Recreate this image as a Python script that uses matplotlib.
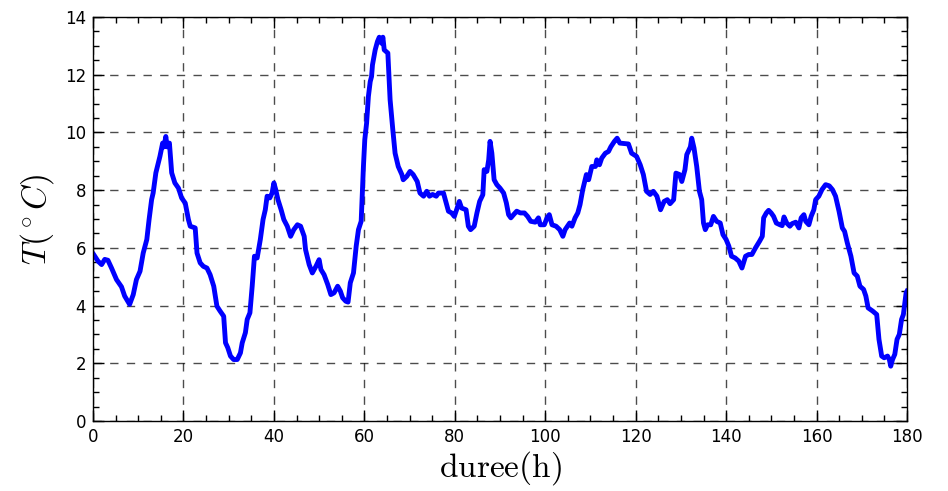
import matplotlib
matplotlib.use("Agg")
import matplotlib.pyplot as plt
from matplotlib.ticker import MultipleLocator

# duree (h) and temperature (deg C)
duree = [0.15, 1.1, 1.9, 2.6, 3.3, 4.1, 5.2, 6.3, 7.0, 8.1, 8.9, 9.6, 10.4, 11.1, 11.9,
         12.4, 12.96, 13.3, 13.9, 14.8, 15.4, 15.7, 16.1, 16.4, 16.9, 17.4, 18.1, 18.9,
         19.6, 20.4, 21.1, 21.5, 22.6, 23.0, 23.7, 24.4, 25.2, 25.9, 26.7, 27.4, 28.1,
         28.9, 29.3, 29.8, 30.4, 31.1, 31.9, 32.6, 33.0, 33.7, 34.1, 34.7, 35.2, 35.7,
         36.3, 37.0, 37.6, 38.1, 38.5, 39.1, 39.6, 40.0, 40.4, 40.9, 41.6, 42.2, 42.96,
         43.7, 44.4, 45.2, 45.9, 46.7, 47.0, 47.8, 48.5, 49.3, 50.0, 50.4, 51.1, 51.9,
         52.6, 53.3, 54.1, 54.7, 55.2, 55.9, 56.4, 56.9, 57.6, 58.2, 58.7, 59.3, 59.8,
         60.1, 60.5, 60.9, 61.3, 61.6, 61.8, 62.4, 62.9, 63.3, 63.8, 64.1, 64.4, 65.2,
         65.7, 66.3, 66.8, 67.5, 68.3, 68.6, 69.4, 70.1, 70.8, 71.7, 72.3, 73.1, 73.8,
         74.4, 75.1, 75.9, 76.4, 77.5, 78.1, 78.6, 79.3, 79.9, 80.4, 81.0, 81.5, 82.5,
         83.0, 83.5, 84.3, 84.9, 85.5, 86.2, 86.5, 87.1, 87.5, 87.8, 88.2, 88.7, 89.3,
         90.0, 90.8, 91.4, 91.9, 92.4, 93.0, 93.7, 94.5, 95.4, 96.1, 96.8, 97.8, 98.5,
         98.9, 99.8, 100.4, 100.9, 101.5, 102.4, 103.2, 103.9, 104.4, 105.4, 105.9,
         106.6, 107.2, 107.7, 108.3, 109.1, 109.6, 110.3, 111.1, 111.4, 112.0, 112.5,
         113.3, 114.0, 114.5, 115.3, 115.9, 116.5, 118.4, 119.1, 120.2, 121.0, 121.7,
         122.4, 123.2, 123.9, 124.7, 125.5, 126.3, 127.0, 127.6, 128.4, 128.9, 129.7,
         130.2, 130.9, 131.3, 132.1, 132.4, 132.9, 133.5, 134.1, 134.6, 135.0, 135.4,
         135.9, 136.6, 137.2, 137.9, 138.7, 139.3, 140.0, 140.6, 141.2, 142.0, 142.8,
         143.5, 144.3, 145.0, 145.7, 146.5, 147.4, 148.0, 148.3, 148.9, 149.4, 149.96,
         150.5, 151.1, 151.9, 152.4, 152.8, 153.4, 154.1, 154.6, 155.4, 156.1, 156.6,
         157.2, 157.6, 158.3, 158.8, 159.4, 159.8, 160.5, 161.2, 162.0, 162.8, 163.5,
         164.2, 164.97, 165.7, 166.2, 166.8, 167.6, 168.3, 169.0, 169.6, 170.4, 170.9,
         171.4, 172.4, 173.3, 173.8, 174.4, 174.96, 175.7, 176.1, 176.4, 176.8, 177.3,
         177.8, 178.3, 178.8, 179.2, 179.8, 180.0]
temperature = [5.77, 5.54, 5.42, 5.6, 5.57, 5.3, 4.9, 4.65, 4.33, 4.04, 4.38, 4.9, 5.19, 5.82, 6.29,
               6.98, 7.67, 7.9, 8.6, 9.17, 9.63, 9.5, 9.86, 9.5, 9.63, 8.6, 8.25, 8.07,
               7.73, 7.55, 6.98, 6.75, 6.69, 5.82, 5.48, 5.36, 5.3, 5.07, 4.67, 3.98, 3.81,
               3.63, 2.71, 2.54, 2.25, 2.13, 2.13, 2.36, 2.71, 3.06, 3.52, 3.75, 4.67, 5.71,
               5.65, 6.29, 6.98, 7.32, 7.79, 7.73, 7.9, 8.25, 8.02, 7.67, 7.32, 6.98, 6.75,
               6.4, 6.63, 6.8, 6.75, 6.4, 5.94, 5.42, 5.13, 5.36, 5.59, 5.25, 5.07, 4.73,
               4.38, 4.44, 4.67, 4.5, 4.27, 4.15, 4.12, 4.79, 5.13, 6.06, 6.63, 6.92, 8.82,
               9.75, 10.32, 11.25, 11.76, 11.94, 12.34, 12.86, 13.15, 13.3, 13.09, 13.3, 12.86, 12.75,
               11.13, 10.09, 9.28, 8.82, 8.54, 8.36, 8.48, 8.65, 8.54, 8.3, 7.9, 7.79, 7.96,
               7.79, 7.85, 7.79, 7.9, 7.9, 7.56, 7.27, 7.21, 7.09, 7.32, 7.61, 7.38, 7.32,
               6.75, 6.63, 6.75, 7.21, 7.61, 7.84, 8.71, 8.65, 9.05, 9.69, 9.28, 8.36, 8.19,
               8.07, 7.9, 7.56, 7.15, 7.04, 7.15, 7.27, 7.21, 7.21, 7.09, 6.92, 6.89, 7.04,
               6.8, 6.8, 7.04, 7.15, 6.8, 6.75, 6.63, 6.4, 6.63, 6.86, 6.75,
               7.04, 7.21, 7.5, 8.02, 8.54, 8.36, 8.82, 8.82, 9.05, 8.88, 9.11,
               9.28, 9.34, 9.5, 9.69, 9.8, 9.63, 9.6, 9.28, 9.17, 8.88, 8.54,
               7.96, 7.85, 7.96, 7.79, 7.32, 7.61, 7.67, 7.53, 7.67, 8.59, 8.54,
               8.3, 8.71, 9.23, 9.5, 9.8, 9.46, 8.82, 7.96, 7.67, 6.86, 6.63,
               6.8, 6.8, 7.09, 6.92, 6.86, 6.46, 6.29, 6.06, 5.71, 5.65, 5.54,
               5.3, 5.71, 5.77, 5.77, 6.0, 6.23, 6.4, 7.04, 7.21, 7.3, 7.21,
               7.09, 6.86, 6.8, 6.77, 7.07, 6.86, 6.75, 6.84, 6.89, 6.69, 7.04,
               7.15, 6.92, 6.8, 7.09, 7.32, 7.67, 7.79, 8.02, 8.19, 8.15, 8.02,
               7.79, 7.27, 6.69, 6.57, 6.17, 5.71, 5.13, 5.02, 4.67, 4.56, 4.33,
               3.92, 3.81, 3.69, 2.83, 2.25, 2.19, 2.25, 2.13, 1.9, 2.13, 2.31,
               2.83, 3.0, 3.52, 3.69, 4.44, 4.5]

x_ticks = [0, 20, 40, 60, 80, 100, 120, 140, 160, 180]
y_ticks = [0, 2, 4, 6, 8, 10, 12, 14]

plt.rcParams['mathtext.fontset'] = 'cm'
plt.rcParams['font.family'] = ['DejaVu Sans']

fig = plt.figure(figsize=(9.48, 4.91), dpi=100)
ax = fig.add_axes([93/948, 1-421/491, 814/948, 404/491])
ax.plot(duree, temperature, color='#0000ff', lw=3.5)
ax.set_xlim(0, 180)
ax.set_ylim(0, 14)
ax.set_xticks(x_ticks)
ax.set_yticks(y_ticks)
ax.xaxis.set_minor_locator(MultipleLocator(5))
ax.yaxis.set_minor_locator(MultipleLocator(0.5))
ax.tick_params(which='both', direction='in', top=True, right=True, color='k')
ax.tick_params(which='major', length=8, width=1, labelsize=12, pad=5)
ax.tick_params(which='minor', length=4, width=1)
for s in ax.spines.values():
    s.set_linewidth(1)
ax.grid(True, which='major', color='k', linestyle='--', linewidth=1, alpha=0.7, dashes=(6, 6))
ax.set_xlabel(r'$\mathrm{duree(h)}$', fontsize=24, labelpad=2)
ax.set_ylabel(r'$T(^\circ C)$', fontsize=24, labelpad=6)
fig.savefig('out.png', dpi=100)
